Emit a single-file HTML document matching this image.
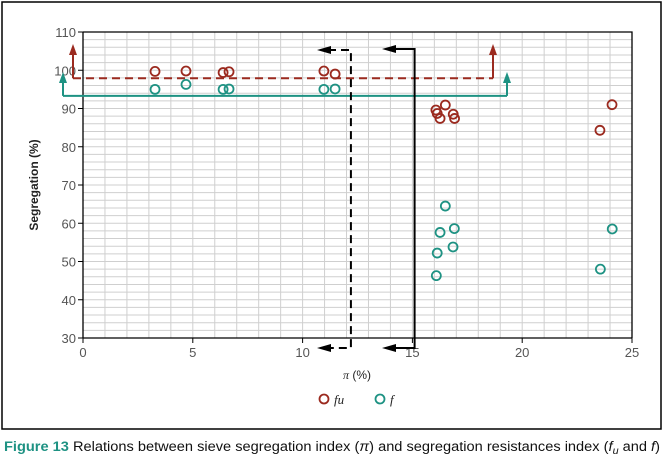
<!DOCTYPE html>
<html><head><meta charset="utf-8"><style>
body{margin:0;background:#fff;width:668px;height:463px;overflow:hidden;font-family:"Liberation Sans",sans-serif}
svg{display:block}
</style></head><body>
<svg id="chart" width="668" height="463" xmlns="http://www.w3.org/2000/svg">
<rect x="2" y="2" width="659" height="427" fill="#fff" stroke="#000" stroke-width="1.5"/>
<g id="grid"></g>
<g id="axes"></g>
<g id="lines"></g>
<g id="pts"></g>
<text transform="translate(38,185) rotate(-90)" text-anchor="middle" font-size="12" font-weight="bold" fill="#222">Segregation (%)</text>
<text x="357" y="379" text-anchor="middle" font-size="12" fill="#222"><tspan font-family="Liberation Serif" font-style="italic">π</tspan> (%)</text>
<g>
<circle cx="324" cy="399" r="4.5" fill="none" stroke="#9b2a1f" stroke-width="1.8"/>
<text x="334" y="404" font-family="Liberation Serif" font-style="italic" font-size="13" fill="#222">fu</text>
<circle cx="380" cy="399" r="4.5" fill="none" stroke="#1e9283" stroke-width="1.8"/>
<text x="390" y="404" font-family="Liberation Serif" font-style="italic" font-size="13" fill="#222">f</text>
</g>
<text x="4" y="451" font-size="13.5" fill="#111" textLength="656" lengthAdjust="spacingAndGlyphs"><tspan fill="#1e9283" font-weight="bold">Figure 13</tspan> Relations between sieve segregation index (<tspan font-style="italic">π</tspan>) and segregation resistances index (<tspan font-style="italic">f</tspan><tspan font-style="italic" font-size="10" dy="3">u</tspan><tspan dy="-3"> and </tspan><tspan font-style="italic">f</tspan>)</text>
</svg>
<script>
const xTicks=[0,5,10,15,20,25];
const yTicks=[30,40,50,60,70,80,90,100,110];
const fuX=[3.28,4.69,6.38,6.65,10.97,11.48,16.07,16.13,16.26,16.5,16.86,16.92,24.09,23.54];
const fuY=[99.7,99.8,99.4,99.6,99.8,99.0,89.6,88.7,87.4,90.9,88.5,87.4,91.0,84.3];
const fX=[3.28,4.69,6.38,6.65,10.97,11.48,16.5,16.26,16.91,16.13,16.85,16.09,24.1,23.56];
const fY=[95.0,96.3,95.0,95.1,95.0,95.1,64.5,57.6,58.6,52.2,53.8,46.3,58.5,48.0];
const fuThreshold=[97.9];
const fThreshold=[93.3];
const piThresholds=[12.2,15.1];
const NS='http://www.w3.org/2000/svg';
const X0=83,X1=632,Y0=338,Y1=32;
const sx=v=>X0+(v-0)/(25-0)*(X1-X0);
const sy=v=>Y0-(v-30)/(110-30)*(Y0-Y1);
function mk(tag,attrs,parent){const e=document.createElementNS(NS,tag);for(const k in attrs)e.setAttribute(k,attrs[k]);parent.appendChild(e);return e;}
const grid=document.getElementById('grid'),axes=document.getElementById('axes'),lines=document.getElementById('lines'),pts=document.getElementById('pts');
for(let i=1;i<25;i++){const l=mk('line',{x1:sx(i),x2:sx(i),y1:Y1,y2:Y0,stroke:'#cfcfcf','stroke-width':1},grid);

}
for(let v=32;v<110;v+=2){const l=mk('line',{x1:X0,x2:X1,y1:sy(v),y2:sy(v),stroke:'#cfcfcf','stroke-width':1},grid);

}
const fr=mk('polyline',{points:`${X0},${Y1} ${X1},${Y1} ${X1},${Y0}`,fill:'none',stroke:'#000','stroke-width':1.3},axes);


const xa=mk('line',{x1:X0,x2:X1,y1:Y0,y2:Y0,stroke:'#000','stroke-width':1.3},axes);


const ya=mk('line',{x1:X0,x2:X0,y1:Y1,y2:Y0,stroke:'#000','stroke-width':1.3},axes);


xTicks.forEach(t=>{const tk=mk('line',{x1:sx(t),x2:sx(t),y1:Y0,y2:Y0+5,stroke:'#000'},axes);


const tx=mk('text',{x:sx(t),y:Y0+19,'text-anchor':'middle','font-size':13,fill:'#555'},axes);tx.textContent=t;

});
yTicks.forEach(t=>{const tk=mk('line',{x1:X0-5,x2:X0,y1:sy(t),y2:sy(t),stroke:'#000'},axes);


const tx=mk('text',{x:X0-7,y:sy(t)+5,'text-anchor':'end','font-size':13,fill:'#555'},axes);tx.textContent=t;

});
function arrowHead(x,y,dir,color){const s=6;let p;
if(dir==='up')p=`${x},${y-3} ${x-4},${y+s+2} ${x+4},${y+s+2}`;else p=`${x-3},${y} ${x+s+5},${y-4} ${x+s+5},${y+4}`;
const a=mk('polygon',{points:p,fill:color},lines);

}
function pl(points,color,dash,name){const e=mk('polyline',{points:points,fill:'none',stroke:color,'stroke-width':2},lines);if(dash)e.setAttribute('stroke-dasharray',dash);

}
const RED='#9b2a1f',TEAL='#1e9283';
const ry=sy(fuThreshold[0]),ty=sy(fThreshold[0]);
pl(`73,${ry} 493,${ry}`,RED,'8,5','fu-threshold-line');
pl(`73,${ry} 73,52`,RED,'','fu-left-arrow');arrowHead(73,47,'up',RED);
pl(`493,${ry} 493,52`,RED,'','fu-right-arrow');arrowHead(493,47,'up',RED);
pl(`63,${ty} 507,${ty}`,TEAL,'','f-threshold-line');
pl(`63,${ty} 63,80`,TEAL,'','f-left-arrow');arrowHead(63,75,'up',TEAL);
pl(`507,${ty} 507,80`,TEAL,'','f-right-arrow');arrowHead(507,75,'up',TEAL);
const p1=sx(piThresholds[0]),p2=sx(piThresholds[1]);
pl(`328,50 ${p1},50 ${p1},348 328,348`,'#000','8,5','pi-threshold-dashed');
arrowHead(320,50,'left','#000');arrowHead(320,348,'left','#000');
pl(`393,49 ${p2},49 ${p2},348 393,348`,'#000','','pi-threshold-solid');
arrowHead(385,49,'left','#000');arrowHead(385,348,'left','#000');
function dots(xs,ys,color,name){xs.forEach((x,i)=>{const c=mk('circle',{cx:sx(x),cy:sy(ys[i]),r:4.5,fill:'none',stroke:color,'stroke-width':1.8},pts);

});}
dots(fuX,fuY,RED,'fu-point');
dots(fX,fY,TEAL,'f-point');
</script>
</body></html>
